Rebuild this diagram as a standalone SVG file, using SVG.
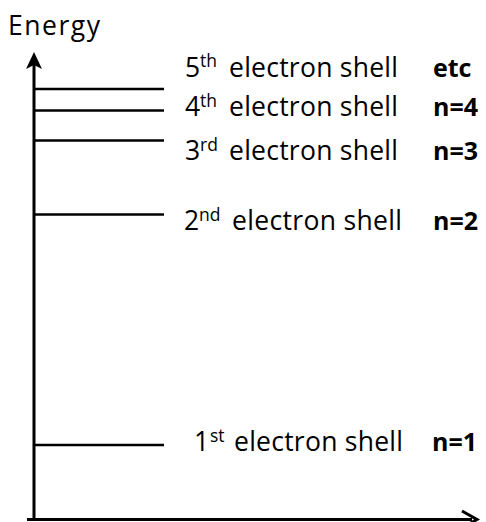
<svg xmlns="http://www.w3.org/2000/svg" width="486" height="522" viewBox="0 0 486 522">
<style>
.ax{stroke:#000;stroke-width:3;fill:none}
.lv{stroke:#000;stroke-width:2.6}
.t{font-family:"Open Sans","Liberation Sans",sans-serif;font-size:26.5px;fill:#000}
.s{font-size:17.5px}
.b{font-family:"Open Sans","Liberation Sans",sans-serif;font-size:25px;font-weight:bold;fill:#000}
</style>
<rect width="486" height="522" fill="#fff"/>
<g id="axes">
<line class="ax" x1="34" y1="521" x2="34" y2="60"/>
<path d="M34,52 L42,69 L34,65 L26,69 Z" fill="#000"/>
<line class="ax" x1="27" y1="519.5" x2="472" y2="519.5"/>
<path d="M462,511 L477,519.5 L462,528" class="ax"/>
<text id="energy" class="t" x="8" y="35" textLength="92">Energy</text>
</g>
<g id="connectors">
<line class="lv" x1="34" y1="89" x2="164" y2="89"/>
<line class="lv" x1="34" y1="110.5" x2="164" y2="110.5"/>
<line class="lv" x1="34" y1="140.5" x2="164" y2="140.5"/>
<line class="lv" x1="34" y1="214.5" x2="164" y2="214.5"/>
<line class="lv" x1="34" y1="445" x2="164" y2="445"/>
</g>
<g id="shell5">
<text class="t" x="185" y="76.5">5<tspan class="s" x="200" dy="-9.5">th</tspan><tspan x="229" dy="9.5" textLength="169">electron shell</tspan></text>
<text class="b" x="433" y="76.5">etc</text>
</g>
<g id="shell4">
<text class="t" x="185" y="116">4<tspan class="s" x="200" dy="-9.5">th</tspan><tspan x="229" dy="9.5" textLength="169">electron shell</tspan></text>
<text class="b" x="433" y="116">n=4</text>
</g>
<g id="shell3">
<text class="t" x="185" y="160">3<tspan class="s" x="200" dy="-9.5">rd</tspan><tspan x="229" dy="9.5" textLength="169">electron shell</tspan></text>
<text class="b" x="433" y="160">n=3</text>
</g>
<g id="shell2">
<text class="t" x="184" y="230">2<tspan class="s" x="199" dy="-9.5">nd</tspan><tspan x="232" dy="9.5" textLength="170">electron shell</tspan></text>
<text class="b" x="433" y="230">n=2</text>
</g>
<g id="shell1">
<text class="t" x="194" y="451">1<tspan class="s" x="210" dy="-9.5">st</tspan><tspan x="234" dy="9.5" textLength="169">electron shell</tspan></text>
<text class="b" x="432" y="451">n=1</text>
</g>
</svg>
